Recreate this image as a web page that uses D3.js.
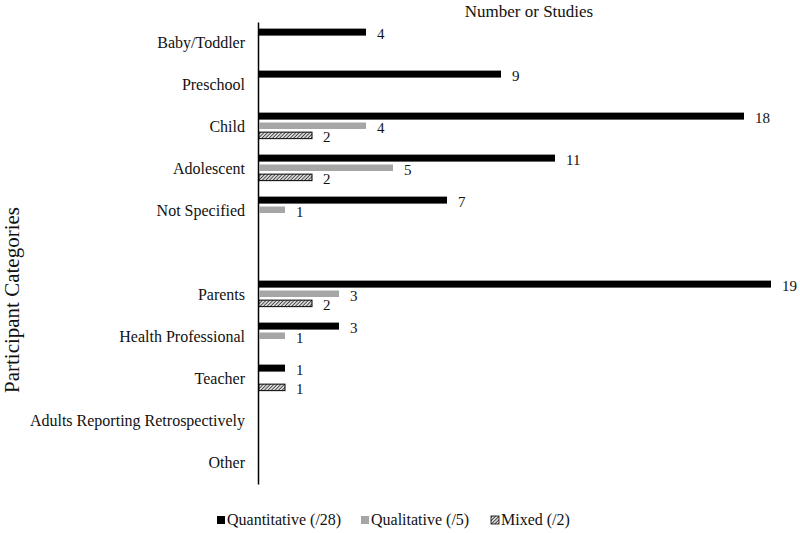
<!DOCTYPE html>
<html><head><meta charset="utf-8">
<script src="https://cdn.jsdelivr.net/npm/d3@7"></script>
<style>
html,body{margin:0;padding:0;background:#fff;}
svg text{font-family:"Liberation Serif","Times New Roman",serif;fill:#111;}
</style></head>
<body>
<svg id="chart" width="800" height="533"></svg>
<script>
const categories = ["Baby/Toddler","Preschool","Child","Adolescent","Not Specified","","Parents","Health Professional","Teacher","Adults Reporting Retrospectively","Other"];
const quantitative = [4,9,18,11,7,null,19,3,1,null,null];
const qualitative  = [null,null,4,5,1,null,3,1,null,null,null];
const mixed        = [null,null,2,2,null,null,2,null,1,null,null];
const seriesNames = ["Quantitative (/28)","Qualitative (/5)","Mixed (/2)"];
const xDomain = [0,20];

const svg = d3.select("#chart");
const defs = svg.append("defs");
const pat = defs.append("pattern").attr("id","hatch").attr("patternUnits","userSpaceOnUse")
  .attr("width",2.5).attr("height",2.5).attr("patternTransform","rotate(45)");
pat.append("rect").attr("width",2.5).attr("height",2.5).attr("fill","#d8d8d8");
pat.append("line").attr("x1",0).attr("y1",0).attr("x2",0).attr("y2",2.5).attr("stroke","#222").attr("stroke-width",1.4);

const x = d3.scaleLinear().domain(xDomain).range([258,798]);
const y = d3.scaleBand().domain(d3.range(categories.length)).range([22,484]).padding(0);
const inner = d3.scaleBand().domain([0,1,2]).range([6.5,33]).paddingInner(0.25);

const fills = ["#000","#a6a6a6","url(#hatch)"];
const series = [quantitative, qualitative, mixed];

const axis = d3.axisLeft(y).tickSize(0).tickPadding(13).tickFormat(i => categories[i]);
const g = svg.append("g").attr("transform","translate(258,0)").call(axis);
g.select(".domain").attr("stroke","#000").attr("stroke-width",1.5);
g.selectAll("text").style("font-family",'"Liberation Serif","Times New Roman",serif').style("font-size","16px").attr("fill","#111");

series.forEach((vals, si) => {
  const data = vals.map((v,i)=>({v,i})).filter(d => d.v != null && d.v > 0);
  const bh = si === 0 ? 7 : 6.5;
  svg.append("g").selectAll("rect").data(data).join("rect")
    .attr("x", x(0)+1)
    .attr("y", d => y(d.i) + inner(si) + inner.bandwidth()/2 - bh/2)
    .attr("width", d => x(d.v) - x(0) - 1)
    .attr("height", bh)
    .attr("fill", fills[si])
    .attr("stroke", si === 2 ? "#000" : "none")
    .attr("stroke-width", 1);
  svg.append("g").selectAll("text").data(data).join("text")
    .attr("x", d => x(d.v) + 11)
    .attr("y", d => y(d.i) + inner(si) + inner.bandwidth()/2 + 2)
    .attr("dominant-baseline","central")
    .style("font-size","15px")
    .text(d => d.v);
});

svg.append("text").attr("x",529).attr("y",17).attr("text-anchor","middle").style("font-size","17px").text("Number or Studies");
svg.append("text").attr("transform","translate(19,300) rotate(-90)").attr("text-anchor","middle").style("font-size","21px").text("Participant Categories");

const legX = [217, 361, 491];
const lg = svg.append("g");
seriesNames.forEach((n,i) => {
  lg.append("rect").attr("x",legX[i]).attr("y",516).attr("width",8).attr("height",8)
    .attr("fill",fills[i]).attr("stroke", i===2 ? "#000" : "none").attr("stroke-width",0.8);
  lg.append("text").attr("x",legX[i]+10).attr("y",525).style("font-size","16px").text(n);
});
</script>
</body></html>
